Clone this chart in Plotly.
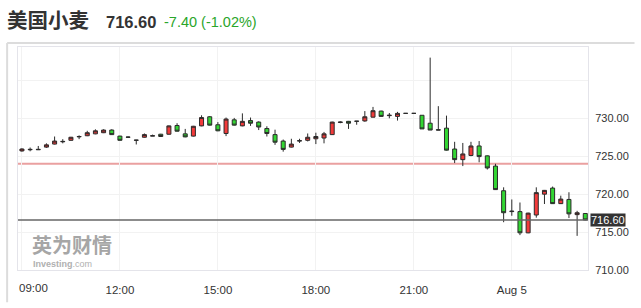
import plotly.graph_objects as go
import pandas as pd

# ---------------- data ----------------
start_time = "2025-08-04 09:00"
opens = [725.7, 725.85, 725.85, 726.2, 726.6, 726.9, 727.1, 727.55, 727.7, 727.95,
         728.1, 728.45, 727.65, 727.5, 727.1, 727.5, 727.65, 727.9, 727.9, 729.05,
         727.95, 727.65, 729.0, 730.2, 729.15, 728.0, 729.8, 729.0, 729.7, 729.5,
         728.65, 727.85, 727.0, 726.2, 727.0, 727.1, 727.3, 727.4, 727.85, 729.45,
         729.6, 729.6, 729.65, 730.15, 730.95, 730.35, 730.25, 730.65, 730.65, 730.4,
         729.35, 728.5, 728.7, 725.95, 724.55, 725.1, 726.35, 725.05, 723.7, 720.45,
         717.7, 717.7, 714.9, 717.25, 720.0, 720.8, 718.75, 719.3, 717.3, 717.45]
highs = [726.05, 726.15, 726.35, 726.7, 727.6, 727.25, 727.55, 727.75, 728.35, 728.55,
         728.55, 728.55, 727.7, 727.6, 727.15, 728.0, 727.85, 727.95, 729.05, 729.35,
         728.6, 729.0, 730.4, 730.3, 729.5, 730.1, 730.05, 730.65, 730.1, 729.6,
         728.95, 728.5, 727.2, 727.3, 727.3, 728.0, 728.1, 728.2, 729.55, 729.6,
         729.65, 729.65, 730.95, 731.5, 731.0, 730.7, 730.85, 730.65, 730.65, 730.4,
         738.0, 731.6, 730.35, 726.9, 726.75, 726.9, 727.0, 725.1, 724.0, 720.9,
         719.3, 718.9, 717.55, 720.9, 720.55, 721.0, 719.8, 720.25, 717.8, 717.5]
lows = [725.6, 725.65, 725.85, 726.1, 726.55, 726.7, 727.05, 727.25, 727.65, 727.9,
        728.05, 727.8, 727.05, 727.4, 726.55, 727.45, 727.65, 727.55, 727.85, 728.25,
        727.5, 727.6, 728.95, 729.05, 728.3, 727.65, 729.05, 728.95, 729.0, 728.45,
        727.6, 726.5, 725.6, 726.15, 726.75, 726.95, 726.6, 726.7, 727.8, 729.35,
        728.6, 729.15, 729.55, 730.1, 730.2, 730.0, 729.7, 730.65, 730.65, 728.6,
        728.45, 728.45, 725.75, 724.1, 723.7, 725.0, 724.2, 723.25, 720.55, 716.3,
        717.15, 714.6, 714.85, 716.9, 718.7, 718.7, 718.7, 716.85, 714.5, 716.55]
closes = [725.95, 725.9, 725.9, 726.5, 727.0, 726.95, 727.5, 727.6, 728.1, 728.35,
          728.45, 727.85, 727.1, 727.52, 727.12, 727.85, 727.7, 727.6, 729.0, 728.3,
          727.55, 728.95, 730.1, 729.1, 728.35, 729.9, 729.1, 729.6, 729.35, 728.85,
          728.0, 726.85, 725.9, 726.6, 727.05, 727.5, 727.6, 727.95, 729.5, 729.5,
          729.35, 729.62, 730.2, 731.0, 730.25, 730.4, 730.65, 730.65, 730.65, 728.6,
          728.45, 728.45, 725.8, 724.55, 725.3, 726.35, 724.95, 723.45, 720.6, 717.55,
          717.75, 714.9, 717.5, 720.2, 720.5, 718.75, 719.35, 717.4, 717.55, 716.6]
prev_close = 724.00
change = -7.40
change_pct = -1.02
title_name = "美国小麦"
x_tick_times = ["2025-08-04 09:00", "2025-08-04 12:00", "2025-08-04 15:00",
                "2025-08-04 18:00", "2025-08-04 21:00", "2025-08-05 00:00"]
x_tick_labels = ["09:00", "12:00", "15:00", "18:00", "21:00", "Aug 5"]
y_tick_vals = [710, 715, 720, 725, 730, 735]
y_tick_labels = ["710.00", "715.00", "720.00", "725.00", "730.00", ""]
x_range = ["2025-08-04 08:52:45", "2025-08-05 02:20:00"]
y_range = [710, 739.4]

times = pd.date_range(start_time, periods=len(closes), freq="15min")
last_price = closes[-1]

# ---------------- layout helpers (pixel -> paper) ----------------
W, H = 641, 308
ML, MR, MT, MB = 18, 47, 47, 33
PW, PH = W - ML - MR, H - MT - MB


def px(x):
    return (x - ML) / PW


def py(y):
    return (H - MB - y) / PH


fig = go.Figure()
fig.add_trace(go.Candlestick(
    x=times, open=opens, high=highs, low=lows, close=closes,
    increasing=dict(line=dict(color="#2b2b2b", width=1), fillcolor="#f23a3a"),
    decreasing=dict(line=dict(color="#2b2b2b", width=1), fillcolor="#33d633"),
    whiskerwidth=0, hoverinfo="skip", showlegend=False,
))

shapes = [
    dict(type="line", xref="paper", x0=0, x1=1, yref="y", y0=prev_close, y1=prev_close,
         line=dict(color="#eaa0a0", width=2), layer="below"),
    dict(type="line", xref="paper", x0=0, x1=1, yref="y", y0=last_price, y1=last_price,
         line=dict(color="#666666", width=1.5)),
    dict(type="line", xref="paper", yref="paper", x0=px(7), x1=px(7), y0=py(43), y1=py(H),
         line=dict(color="#dcdcdc", width=2)),
    dict(type="line", xref="paper", yref="paper", x0=px(7), x1=px(W), y0=py(43), y1=py(43),
         line=dict(color="#dcdcdc", width=2)),
]

sign = "+" if change >= 0 else ""
annotations = [
    dict(text=f"<b>{title_name}</b>", xref="paper", yref="paper", x=px(5), y=py(18),
         xanchor="left", yanchor="middle", showarrow=False,
         font=dict(family="Noto Sans CJK SC", size=20.5, color="#333333")),
    dict(text=f"<b>{last_price:.2f}</b>", xref="paper", yref="paper", x=px(105), y=py(21),
         xanchor="left", yanchor="middle", showarrow=False,
         font=dict(family="Liberation Sans, Arial", size=16.5, color="#333333")),
    dict(text=f"{sign}{change:.2f} ({sign}{change_pct:.2f}%)", xref="paper", yref="paper",
         x=px(164), y=py(21), xanchor="left", yanchor="middle", showarrow=False,
         font=dict(family="Liberation Sans, Arial", size=14.5, color="#2aa52a")),
    # watermark
    dict(text="<b>英为财情</b>", xref="paper", yref="paper", x=px(30), y=py(249),
         xanchor="left", yanchor="middle", showarrow=False,
         font=dict(family="Noto Sans CJK SC", size=20, color="#a6a6a6")),
    dict(text="<b>Investing</b>.com", xref="paper", yref="paper", x=px(31), y=py(269),
         xanchor="left", yanchor="middle", showarrow=False,
         font=dict(family="Liberation Sans, Arial", size=9, color="#b0b0b0")),
    dict(text=x_tick_labels[0], xref="paper", yref="paper", x=px(17), y=py(293),
         xanchor="left", yanchor="middle", showarrow=False,
         font=dict(family="Liberation Sans, Arial", size=11.5, color="#333333")),
    dict(text=f"{last_price:.2f}", xref="paper", yref="y", x=px(596), y=last_price,
         xanchor="left", yanchor="middle", showarrow=False, bgcolor="#333333",
         borderpad=0, font=dict(family="Liberation Sans, Arial", size=11, color="#ffffff")),
]

fig.update_layout(
    width=W, height=H, autosize=False,
    margin=dict(l=ML, r=MR, t=MT, b=MB, pad=0),
    paper_bgcolor="white", plot_bgcolor="white",
    shapes=shapes, annotations=annotations,
    hovermode=False,
    xaxis=dict(
        type="date", range=x_range, rangeslider=dict(visible=False),
        tickvals=x_tick_times, ticktext=[""] + x_tick_labels[1:],
        showgrid=True, gridcolor="#f2f2f2", gridwidth=1,
        showline=True, linecolor="#e4e4ea", linewidth=1, mirror=True,
        ticks="outside", ticklen=9, tickcolor="rgba(0,0,0,0)",
        tickfont=dict(family="Liberation Sans, Arial", size=11.5, color="#333333"),
        zeroline=False, fixedrange=True,
    ),
    yaxis=dict(
        range=y_range, side="right", tickvals=y_tick_vals, ticktext=y_tick_labels,
        showgrid=True, gridcolor="#f2f2f2", gridwidth=1,
        showline=True, linecolor="#e4e4ea", linewidth=1, mirror=True,
        ticks="outside", ticklen=4, tickcolor="rgba(0,0,0,0)",
        tickfont=dict(family="Liberation Sans, Arial", size=11, color="#333333"),
        zeroline=False, fixedrange=True,
    ),
)

fig.write_html("out.html", config={"displayModeBar": False, "staticPlot": True})
